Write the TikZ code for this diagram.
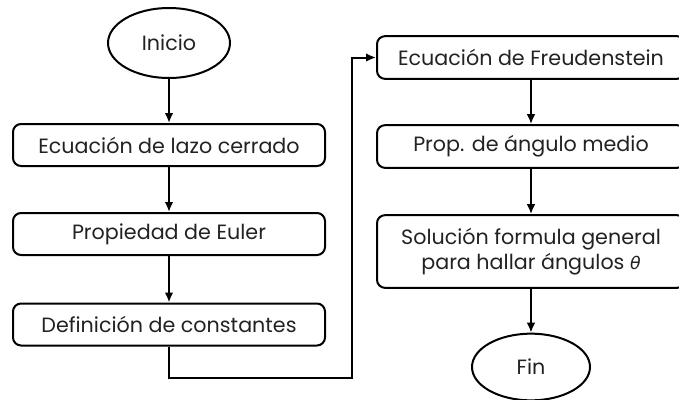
\documentclass[tikz,border=0pt]{standalone}
\usepackage{fontspec}
\setmainfont{Poppins}
\newfontfamily\dvfont{DejaVu Sans}
\usetikzlibrary{arrows.meta,shapes.geometric}
\definecolor{txt}{HTML}{222222}
\begin{document}
\begin{tikzpicture}[x=0.75pt,y=-0.75pt,
  every node/.style={font=\fontsize{15.5pt}{19pt}\selectfont, text=txt},
  stepbox/.style={draw=black, line width=1.5pt, rounded corners=6pt, inner sep=0pt, align=center},
  termnode/.style={draw=black, line width=1.5pt, ellipse, inner sep=0pt},
  arr/.style={line width=1.5pt, -{Latex[length=7.5pt,width=6.5pt]}}]
\useasboundingbox (0,0) rectangle (679,400);
\clip (0,0) rectangle (679,400);
\node[termnode, minimum width=91.5pt, minimum height=52.5pt] (ini) at (169,43) {Inicio};
\node[stepbox, minimum width=234pt, minimum height=31.5pt] (b1) at (169,145) {Ecuación de lazo cerrado};
\node[stepbox, minimum width=234pt, minimum height=31.5pt] (b2) at (169,234) {Propiedad de Euler};
\node[stepbox, minimum width=234pt, minimum height=31.5pt] (b3) at (169,324.5) {Definición de constantes};
\node[stepbox, minimum width=231pt, minimum height=32pt] (b4) at (531,57.5) {Ecuación de Freudenstein};
\node[stepbox, minimum width=231pt, minimum height=32pt] (b5) at (531,146.5) {Prop. de ángulo medio};
\node[stepbox, minimum width=231pt, minimum height=54.5pt] (b6) at (531,251.5) {Solución formula general\\para hallar ángulos {\dvfont\itshape\fontsize{13pt}{15pt}\selectfont θ}};
\node[termnode, minimum width=88.5pt, minimum height=50pt] (fin) at (531,367) {Fin};
\coordinate (c2) at (352,378);
\draw[arr] (ini) -- (b1);
\draw[arr] (b1) -- (b2);
\draw[arr] (b2) -- (b3);
\draw[arr] (b3.south) |- (c2) |- (b4.west);
\draw[arr] (b4) -- (b5);
\draw[arr] (b5) -- (b6);
\draw[arr] (b6) -- (fin);
\end{tikzpicture}
\end{document}
